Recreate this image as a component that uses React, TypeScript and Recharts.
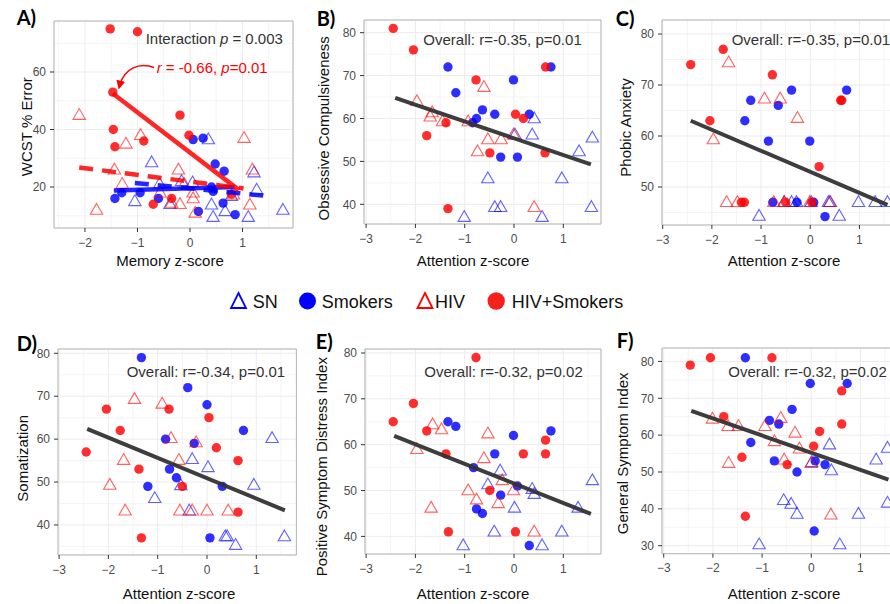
import React from "react";
import {
  ScatterChart,
  Scatter,
  XAxis,
  YAxis,
  CartesianGrid,
  ReferenceArea,
} from "recharts";

type Pt = [number, number];

// A) memory z-score vs WCST % error
const snA: Pt[] = [
  [-0.73, 28.5], [-1.05, 15], [-0.58, 21], [-0.38, 14], [0.35, 36.5], [0.05, 21.5],
  [-0.16, 22], [0.41, 13.8], [0.44, 9.5], [0.67, 11.5], [0.79, 16.8], [1.11, 9.5],
  [1.22, 25], [1.27, 19], [1.77, 12],
];
const smkA: Pt[] = [
  [-1.43, 16], [-1.3, 18], [-0.95, 18], [-0.6, 16], [0.06, 36.5], [0.25, 37],
  [0.48, 28], [0.65, 25.5], [0.41, 20], [0.44, 18.5], [0.16, 11.5], [0.63, 14.4], [0.86, 10.4],
];
const hivA: Pt[] = [
  [-2.11, 45], [-1.78, 12], [-1.44, 26], [-1.29, 21], [-1.22, 35], [-0.94, 38],
  [-0.22, 26], [-0.19, 14], [-0.11, 21], [0.06, 18], [0.06, 16], [0.1, 11],
  [-0.35, 14.4], [-0.57, 18], [0.83, 17.3], [1.03, 37], [1.19, 26], [1.14, 13.8],
];
const hivSmkA: Pt[] = [
  [-1.52, 75], [-1.0, 74], [-1.47, 53], [-1.46, 40], [-1.43, 34], [-0.88, 36],
  [-0.19, 45], [-0.02, 38], [-0.7, 14], [-0.35, 16], [0.79, 17.5],
];
const fitSmkA: Pt[] = [[-1.45, 18.8], [0.85, 20]];
const fitSnA: Pt[] = [[-1.05, 21.4], [1.4, 17]];
const fitHivSmkA: Pt[] = [[-1.47, 52.5], [0.93, 19]];
const fitHivA: Pt[] = [[-2.11, 26.8], [1.02, 19.5]];

// B) obsessive compulsiveness
const snB: Pt[] = [
  [-1.01, 37], [-0.53, 46], [-0.39, 39.3], [-0.27, 39.3], [0.02, 56.2], [0.37, 56.2],
  [0.41, 60], [0.57, 37], [0.97, 46], [1.32, 52.3], [1.59, 55.5], [1.57, 39.3],
];
const smkB: Pt[] = [
  [-1.34, 72], [-1.18, 66], [-0.64, 62], [-0.76, 60], [-0.84, 59], [-0.39, 61],
  [-0.01, 69], [-0.27, 51], [0.07, 51], [0.31, 61], [0.75, 72],
];
const hivB: Pt[] = [
  [-1.97, 64], [-1.7, 60.4], [-1.66, 61.4], [-1.45, 59.3], [-0.93, 59.3], [-0.61, 67.3],
  [-0.74, 52.3], [-0.53, 55.1], [-0.26, 55.1], [-0.01, 56.2], [0.41, 39.3],
];
const hivSmkB: Pt[] = [
  [-2.45, 81], [-2.04, 76], [-1.77, 56], [-1.38, 59], [-1.34, 39], [-0.77, 69],
  [-0.49, 52], [0.03, 61], [0.19, 60], [0.64, 72], [0.63, 52],
];
const fitB: Pt[] = [[-2.41, 64.8], [1.56, 49.3]];

// C) phobic anxiety
const snC: Pt[] = [
  [-1.04, 44.3], [0.59, 44.3], [-0.53, 47], [-0.38, 47], [-0.28, 47], [0.02, 47],
  [0.37, 47], [0.4, 47], [0.98, 47], [1.32, 47], [1.57, 47],
];
const smkC: Pt[] = [
  [-1.33, 63], [-1.21, 67], [-0.65, 66], [-0.38, 69], [-0.85, 59], [-0.01, 59],
  [0.74, 69], [0.3, 44.2], [-0.76, 47], [-0.27, 47], [0.07, 47],
];
const hivC: Pt[] = [
  [-1.66, 74.4], [-1.97, 59.3], [-0.93, 67.3], [-0.61, 67.3], [-0.26, 63.5], [-1.7, 47],
  [-1.48, 47], [-0.74, 47], [-0.53, 47], [-0.01, 47], [0.41, 47],
];
const hivSmkC: Pt[] = [
  [-2.43, 74], [-2.04, 63], [-1.77, 77], [-1.4, 47], [-1.34, 47], [-0.77, 72],
  [-0.5, 47], [0.03, 47], [0.18, 54], [0.64, 67], [0.62, 67],
];
const fitC: Pt[] = [[-2.43, 63], [1.57, 46.5]];

// D) somatization
const snD: Pt[] = [
  [-1.06, 46.2], [-0.53, 49.2], [-0.36, 43.3], [-0.3, 55.3], [0.02, 53.4], [0.37, 37.3],
  [0.41, 37.3], [0.58, 35.3], [0.95, 49.3], [1.32, 60.2], [1.57, 37.3],
];
const smkD: Pt[] = [
  [-1.33, 79], [-0.39, 72], [0, 68], [0.74, 62], [-0.84, 60], [-0.26, 59],
  [-0.76, 53], [-0.62, 51], [-1.2, 49], [0.31, 49], [0.06, 37],
];
const hivD: Pt[] = [
  [-1.47, 69.3], [-0.91, 68.2], [-0.73, 60.2], [-0.22, 59.2], [-1.69, 55.1], [-0.57, 55.1],
  [-1.97, 49.3], [-1.66, 43.3], [-0.55, 43.3], [-0.3, 43.3], [0, 43.3], [0.43, 43.3],
];
const hivSmkD: Pt[] = [
  [-2.45, 57], [-2.04, 67], [-1.76, 62], [-1.38, 53], [-1.33, 37], [-0.77, 67],
  [-0.5, 49], [0.04, 65], [0.19, 58], [0.63, 55], [0.63, 43],
];
const fitD: Pt[] = [[-2.43, 62.4], [1.58, 43.4]];

// E) positive symptom distress index
const snE: Pt[] = [
  [-1.03, 38], [-0.53, 51.3], [-0.4, 41], [-0.28, 54.3], [0.01, 46.2], [0.37, 50.3],
  [0.41, 49.2], [0.57, 38], [0.97, 41], [1.3, 46.2], [1.59, 52.2],
];
const smkE: Pt[] = [
  [-1.34, 65], [-1.18, 64], [-0.82, 55], [-0.76, 46], [-0.64, 45], [-0.39, 58],
  [-0.27, 49], [-0.01, 62], [0.07, 51], [0.31, 38], [0.75, 63],
];
const hivE: Pt[] = [
  [-1.97, 59], [-1.65, 64.4], [-1.47, 63.3], [-1.68, 46.2], [-0.93, 50], [-0.76, 48],
  [-0.61, 57], [-0.53, 62.4], [-0.32, 47.2], [-0.24, 52.2], [-0.01, 50], [0.41, 41],
];
const hivSmkE: Pt[] = [
  [-2.45, 65], [-2.04, 69], [-1.77, 63], [-1.38, 58], [-1.33, 41], [-0.77, 79],
  [-0.49, 50], [0.03, 41], [0.19, 58], [0.64, 61], [0.64, 58],
];
const fitE: Pt[] = [[-2.43, 61.9], [1.56, 44.9]];

// F) general symptom index
const snF: Pt[] = [
  [-1.06, 30.3], [-0.56, 42.3], [-0.41, 41.3], [-0.29, 38.6], [0.01, 52.6], [0.37, 57.4],
  [0.41, 50.4], [0.58, 30.3], [0.96, 38.6], [1.32, 53.3], [1.55, 56.5], [1.55, 41.6],
];
const smkF: Pt[] = [
  [-1.34, 81], [-0.02, 74], [0.73, 74], [-0.39, 67], [-0.85, 64], [-0.66, 63],
  [-1.23, 58], [-0.75, 53], [-0.29, 50], [0.08, 53], [0.28, 52], [0.06, 34],
];
const hivF: Pt[] = [
  [-2.01, 64.4], [-1.69, 62.4], [-1.48, 62.4], [-1.68, 52.4], [-0.94, 62.4], [-0.62, 64.6],
  [-0.75, 58.3], [-0.33, 60.6], [-0.24, 56.3], [-0.55, 53.3], [0, 52.4], [0.4, 38.4],
];
const hivSmkF: Pt[] = [
  [-2.46, 79], [-2.05, 81], [-0.8, 81], [-1.78, 65], [-1.41, 54], [-1.34, 38],
  [-0.49, 52], [0.05, 57], [0.17, 61], [0.62, 72], [0.62, 63],
];
const fitF: Pt[] = [[-2.44, 66.6], [1.57, 47.9]];

const attTicks = [-3, -2, -1, 0, 1];
const attMinor = [-2.5, -1.5, -0.5, 0.5, 1.5];

const RED = "#ff0000";
const BLUE = "#0000ff";
const FIT = "#333333";

const YW = 40;
const XH = 26;
const MT = 4;
const MR = 4;

const toXY = (pts: Pt[]) => pts.map(([x, y]) => ({ x, y }));
const fmt = (v: number) => (v < 0 ? "\u2212" + Math.abs(v) : String(v));

const dot = (color: string) => (p: any) => (
  <circle cx={p.cx} cy={p.cy} r={4.7} fill={color} fillOpacity={0.82} />
);
const tri = (color: string) => (p: any) => (
  <polygon
    points={`${p.cx},${p.cy - 6.6} ${p.cx + 6.2},${p.cy + 4.2} ${p.cx - 6.2},${p.cy + 4.2}`}
    fill="none"
    stroke={color}
    strokeOpacity={0.62}
    strokeWidth={1.1}
  />
);
const none = () => <g />;

type Fit = { pts: Pt[]; color: string; dash?: string; width?: number };

type PanelProps = {
  plot: [number, number, number, number];
  xDomain: [number, number];
  yDomain: [number, number];
  xTicks: number[];
  yTicks: number[];
  xMinor: number[];
  yMinor: number[];
  sn: Pt[];
  smk: Pt[];
  hiv: Pt[];
  hivSmk: Pt[];
  fits: Fit[];
};

function Panel(props: PanelProps) {
  const { plot, xDomain, yDomain, xTicks, yTicks, xMinor, yMinor, fits } = props;
  const [l, t, r, b] = plot;
  const width = r - l + YW + MR;
  const height = b - t + MT + XH;
  const tickStyle = { fill: "#4d4d4d", fontSize: 12 };
  return (
    <div style={{ position: "absolute", left: l - YW, top: t - MT, width, height }}>
      <ScatterChart width={width} height={height} margin={{ top: MT, right: MR, bottom: 0, left: 0 }}>
        <XAxis xAxisId="minor" type="number" dataKey="x" domain={xDomain} ticks={xMinor} allowDataOverflow hide />
        <YAxis yAxisId="minor" type="number" dataKey="y" domain={yDomain} ticks={yMinor} allowDataOverflow hide />
        <CartesianGrid xAxisId="minor" yAxisId="minor" stroke="#f4f4f4" />
        <CartesianGrid stroke="#ececec" />
        <XAxis
          type="number"
          dataKey="x"
          domain={xDomain}
          ticks={xTicks}
          allowDataOverflow
          height={XH}
          axisLine={false}
          tickLine={{ stroke: "#333" }}
          tickSize={4}
          tickMargin={6}
          tick={tickStyle}
          tickFormatter={fmt}
          interval={0}
        />
        <YAxis
          type="number"
          dataKey="y"
          domain={yDomain}
          ticks={yTicks}
          allowDataOverflow
          width={YW}
          axisLine={false}
          tickLine={{ stroke: "#333" }}
          tickSize={4}
          tickMargin={4}
          tick={tickStyle}
          tickFormatter={fmt}
          interval={0}
        />
        <ReferenceArea
          x1={xDomain[0]}
          x2={xDomain[1]}
          y1={yDomain[0]}
          y2={yDomain[1]}
          fill="none"
          stroke="#b8b8b8"
          strokeWidth={1}
          ifOverflow="visible"
        />
        <Scatter data={toXY(props.sn)} shape={tri(BLUE)} isAnimationActive={false} />
        <Scatter data={toXY(props.smk)} shape={dot(BLUE)} isAnimationActive={false} />
        <Scatter data={toXY(props.hiv)} shape={tri(RED)} isAnimationActive={false} />
        <Scatter data={toXY(props.hivSmk)} shape={dot(RED)} isAnimationActive={false} />
        {fits.map((f, i) => (
          <Scatter
            key={i}
            data={toXY(f.pts)}
            fill="none"
            shape={none}
            line={{
              stroke: f.color,
              strokeWidth: f.width ?? 4,
              strokeDasharray: f.dash,
              strokeOpacity: f.color === FIT ? 0.95 : 0.85,
            }}
            isAnimationActive={false}
          />
        ))}
      </ScatterChart>
    </div>
  );
}

const xTitles: [string, number, number][] = [
  ["Memory z-score", 170, 265.5],
  ["Attention z-score", 473, 266],
  ["Attention z-score", 784, 266],
  ["Attention z-score", 179, 599],
  ["Attention z-score", 473, 599],
  ["Attention z-score", 784, 599],
];
const yTitles: [string, number, number][] = [
  ["WCST % Error", 31.5, 126.7],
  ["Obsessive Compulsiveness", 328.5, 128.3],
  ["Phobic Anxiety", 630.7, 127.5],
  ["Somatization", 28, 458.3],
  ["Positive Symptom Distress Index", 327.4, 466.7],
  ["General Symptom Index", 628.4, 453.3],
];
const panelLabels: [string, number, number][] = [
  ["A)", 16.7, 25],
  ["B)", 316.7, 26],
  ["C)", 615.7, 26],
  ["D)", 16.7, 350.5],
  ["E)", 315.7, 349],
  ["F)", 616.7, 348],
];
const overall: [string, number, number][] = [
  ["Overall: r=-0.35, p=0.01", 423.3, 45],
  ["Overall: r=-0.35, p=0.01", 731.7, 45],
  ["Overall: r=-0.34, p=0.01", 126.7, 377],
  ["Overall: r=-0.32, p=0.02", 424.3, 376.7],
  ["Overall: r=-0.32, p=0.02", 728.3, 376.7],
];

function Overlay() {
  return (
    <svg
      width={890}
      height={604}
      style={{ position: "absolute", left: 0, top: 0, pointerEvents: "none" }}
    >
      <defs>
        <marker id="arrowRed" viewBox="0 0 10 10" refX="6" refY="5" markerWidth="6" markerHeight="6" orient="auto">
          <path d="M0,0 L10,5 L0,10 z" fill={RED} />
        </marker>
      </defs>
      {panelLabels.map(([s, x, y]) => (
        <text key={s} x={x} y={y} fontFamily="Lato, sans-serif" fontWeight={700} fontSize={20} fill="#000">
          {s}
        </text>
      ))}
      {xTitles.map(([s, x, y], i) => (
        <text key={i} x={x} y={y} textAnchor="middle" fontSize={15} fill="#111">
          {s}
        </text>
      ))}
      {yTitles.map(([s, x, y], i) => (
        <text key={i} transform={`translate(${x},${y}) rotate(-90)`} textAnchor="middle" fontSize={15} fill="#111">
          {s}
        </text>
      ))}
      {overall.map(([s, x, y], i) => (
        <text key={i} x={x} y={y} fontSize={15} fill="#333">
          {s}
        </text>
      ))}
      <text x={145.7} y={44} fontSize={15} fill="#333">
        Interaction <tspan fontStyle="italic">p</tspan> = 0.003
      </text>
      <text x={156.7} y={73} fontSize={15} fill={RED}>
        <tspan fontStyle="italic">r</tspan> = -0.66, <tspan fontStyle="italic">p</tspan>=0.01
      </text>
      <path
        d="M154,67.5 C140,62 124,68 119.5,86"
        fill="none"
        stroke={RED}
        strokeWidth={1.5}
        markerEnd="url(#arrowRed)"
      />
      <g fontSize={18} fill="#111">
        <polygon points="238.5,293 246,308 231,308" fill="none" stroke={BLUE} strokeWidth={1.8} />
        <text x={252.7} y={308}>SN</text>
        <circle cx={307.5} cy={301} r={8.5} fill={BLUE} />
        <text x={321.7} y={308}>Smokers</text>
        <polygon points="425,293 432.5,308 417.5,308" fill="none" stroke={RED} strokeWidth={1.8} />
        <text x={435} y={308}>HIV</text>
        <circle cx={496.2} cy={301} r={8.7} fill="#f5221b" />
        <text x={511.7} y={308}>HIV+Smokers</text>
      </g>
    </svg>
  );
}

export default function App() {
  return (
    <div
      style={{
        position: "absolute",
        left: 0,
        top: 0,
        width: 890,
        height: 604,
        overflow: "hidden",
        background: "#fff",
        fontFamily: '"Liberation Sans", Arial, sans-serif',
      }}
    >
      <Panel
        plot={[54, 21, 293, 228]}
        xDomain={[-2.59, 1.962]}
        yDomain={[5.74, 77.74]}
        xTicks={[-2, -1, 0, 1]}
        yTicks={[20, 40, 60]}
        xMinor={[-2.5, -1.5, -0.5, 0.5, 1.5]}
        yMinor={[10, 30, 50, 70]}
        sn={snA}
        smk={smkA}
        hiv={hivA}
        hivSmk={hivSmkA}
        fits={[
          { pts: fitSmkA, color: BLUE, width: 4.5 },
          { pts: fitSnA, color: BLUE, dash: "14 9", width: 4.5 },
          { pts: fitHivA, color: RED, dash: "14 9", width: 4.5 },
          { pts: fitHivSmkA, color: RED, width: 4.5 },
        ]}
      />
      <Panel
        plot={[364, 20, 601, 224]}
        xDomain={[-3.043, 1.765]}
        yDomain={[35.41, 82.96]}
        xTicks={attTicks}
        yTicks={[40, 50, 60, 70, 80]}
        xMinor={attMinor}
        yMinor={[45, 55, 65, 75]}
        sn={snB}
        smk={smkB}
        hiv={hivB}
        hivSmk={hivSmkB}
        fits={[{ pts: fitB, color: FIT }]}
      />
      <Panel
        plot={[661.7, 20, 897, 225]}
        xDomain={[-3.014, 1.77]}
        yDomain={[42.55, 82.75]}
        xTicks={attTicks}
        yTicks={[50, 60, 70, 80]}
        xMinor={attMinor}
        yMinor={[45, 55, 65, 75]}
        sn={snC}
        smk={smkC}
        hiv={hivC}
        hivSmk={hivSmkC}
        fits={[{ pts: fitC, color: FIT }]}
      />
      <Panel
        plot={[58.3, 349, 296.7, 555]}
        xDomain={[-3.022, 1.813]}
        yDomain={[33.0, 81.0]}
        xTicks={attTicks}
        yTicks={[40, 50, 60, 70, 80]}
        xMinor={attMinor}
        yMinor={[35, 45, 55, 65, 75]}
        sn={snD}
        smk={smkD}
        hiv={hivD}
        hivSmk={hivSmkD}
        fits={[{ pts: fitD, color: FIT }]}
      />
      <Panel
        plot={[365, 349.3, 601, 554.3]}
        xDomain={[-3.022, 1.765]}
        yDomain={[36.16, 80.87]}
        xTicks={attTicks}
        yTicks={[40, 50, 60, 70, 80]}
        xMinor={attMinor}
        yMinor={[45, 55, 65, 75]}
        sn={snE}
        smk={smkE}
        hiv={hivE}
        hivSmk={hivSmkE}
        fits={[{ pts: fitE, color: FIT }]}
      />
      <Panel
        plot={[661.7, 348.3, 898, 554]}
        xDomain={[-3.035, 1.77]}
        yDomain={[27.83, 83.64]}
        xTicks={attTicks}
        yTicks={[30, 40, 50, 60, 70, 80]}
        xMinor={attMinor}
        yMinor={[35, 45, 55, 65, 75]}
        sn={snF}
        smk={smkF}
        hiv={hivF}
        hivSmk={hivSmkF}
        fits={[{ pts: fitF, color: FIT }]}
      />
      <Overlay />
    </div>
  );
}
